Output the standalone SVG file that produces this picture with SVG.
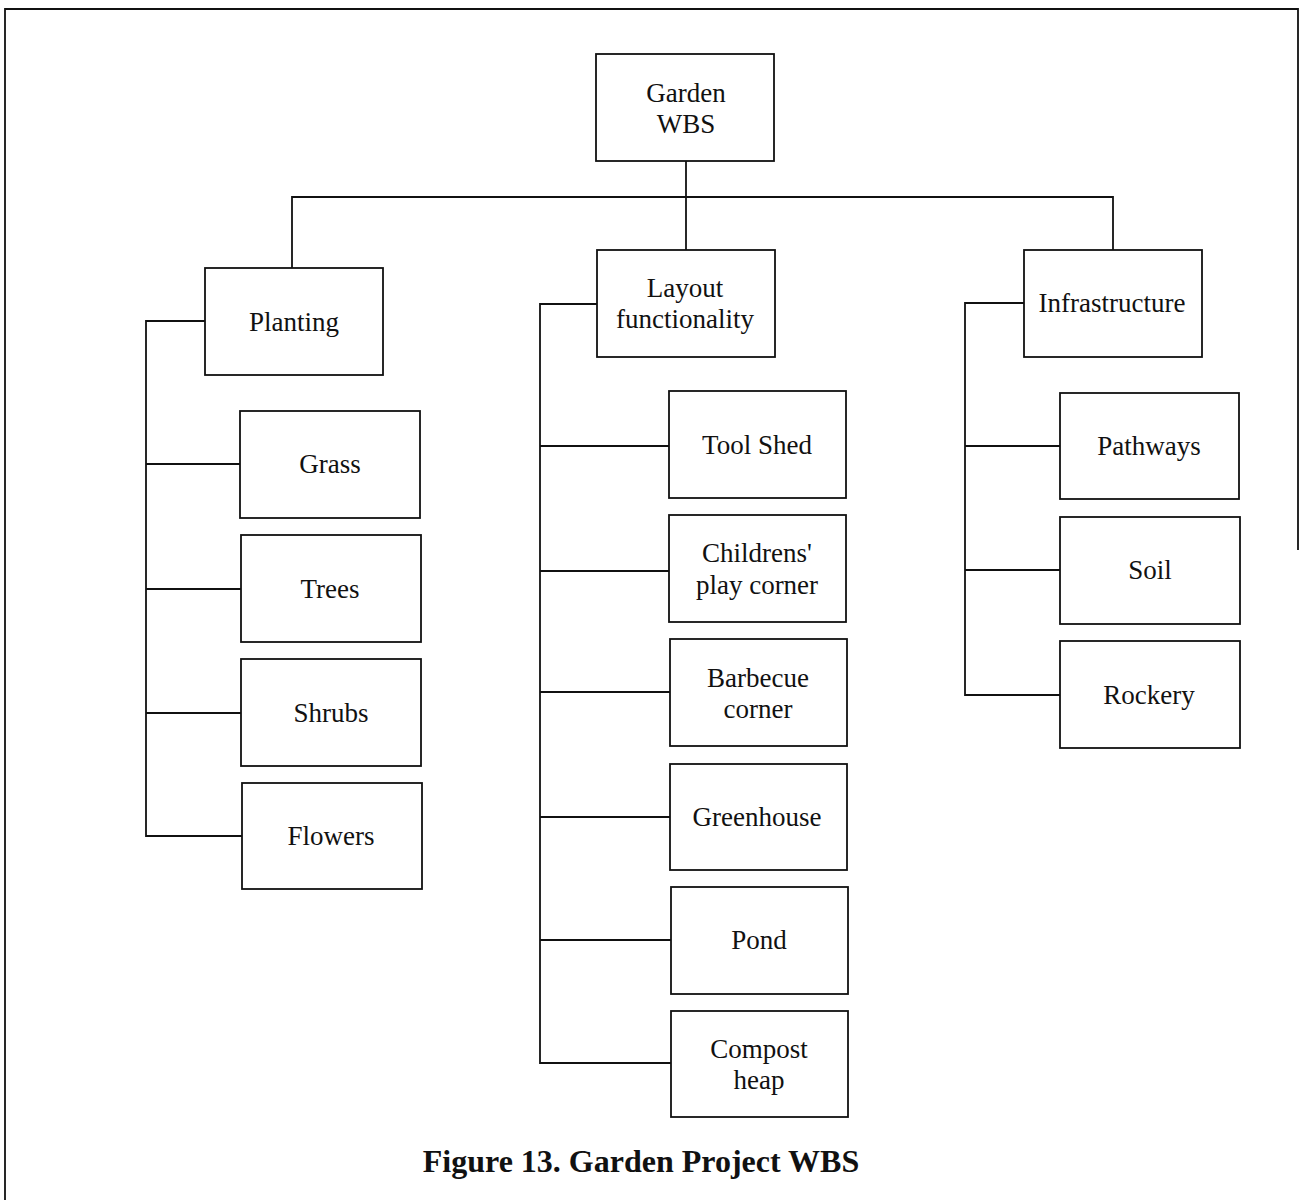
<svg xmlns="http://www.w3.org/2000/svg" width="1301" height="1200" viewBox="0 0 1301 1200">
<style>
.box{fill:#fff;stroke:#111;stroke-width:1.8}
.ln{fill:none;stroke:#111;stroke-width:1.8}
.t{font-family:"Liberation Serif","Times New Roman",serif;font-size:27px;fill:#111;text-anchor:middle}
.cap{font-family:"Liberation Serif","Times New Roman",serif;font-size:32px;font-weight:bold;fill:#111;text-anchor:middle}
</style>
<rect width="1301" height="1200" fill="#fff"/>
<g id="frame" class="ln">
<path d="M5,1200 V9 H1298 V550"/>
</g>
<g id="connectors" class="ln">
<path d="M686,161 V250"/>
<path d="M292,268 V197 H1113 V250"/>
<path d="M205,321 H146 V836 H242"/>
<path d="M146,464 H240 M146,589 H241 M146,713 H241"/>
<path d="M597,304 H540 V1063 H671"/>
<path d="M540,446 H669 M540,571 H669 M540,692 H670 M540,817 H670 M540,940 H671"/>
<path d="M1024,303 H965 V695 H1060"/>
<path d="M965,446 H1060 M965,570 H1060"/>
</g>
<g id="garden-wbs"><rect class="box" x="596" y="54" width="178" height="107"/><text class="t" x="686" y="102">Garden</text><text class="t" x="686" y="133">WBS</text></g>
<g id="planting"><rect class="box" x="205" y="268" width="178" height="107"/><text class="t" x="294" y="331">Planting</text></g>
<g id="layout"><rect class="box" x="597" y="250" width="178" height="107"/><text class="t" x="685" y="297">Layout</text><text class="t" x="685" y="328">functionality</text></g>
<g id="infrastructure"><rect class="box" x="1024" y="250" width="178" height="107"/><text class="t" x="1112" y="312">Infrastructure</text></g>
<g id="grass"><rect class="box" x="240" y="411" width="180" height="107"/><text class="t" x="330" y="473">Grass</text></g>
<g id="trees"><rect class="box" x="241" y="535" width="180" height="107"/><text class="t" x="330" y="598">Trees</text></g>
<g id="shrubs"><rect class="box" x="241" y="659" width="180" height="107"/><text class="t" x="331" y="722">Shrubs</text></g>
<g id="flowers"><rect class="box" x="242" y="783" width="180" height="106"/><text class="t" x="331" y="845">Flowers</text></g>
<g id="tool-shed"><rect class="box" x="669" y="391" width="177" height="107"/><text class="t" x="757" y="454">Tool Shed</text></g>
<g id="play-corner"><rect class="box" x="669" y="515" width="177" height="107"/><text class="t" x="757" y="562">Childrens'</text><text class="t" x="757" y="594">play corner</text></g>
<g id="barbecue"><rect class="box" x="670" y="639" width="177" height="107"/><text class="t" x="758" y="687">Barbecue</text><text class="t" x="758" y="718">corner</text></g>
<g id="greenhouse"><rect class="box" x="670" y="764" width="177" height="106"/><text class="t" x="757" y="826">Greenhouse</text></g>
<g id="pond"><rect class="box" x="671" y="887" width="177" height="107"/><text class="t" x="759" y="949">Pond</text></g>
<g id="compost"><rect class="box" x="671" y="1011" width="177" height="106"/><text class="t" x="759" y="1058">Compost</text><text class="t" x="759" y="1089">heap</text></g>
<g id="pathways"><rect class="box" x="1060" y="393" width="179" height="106"/><text class="t" x="1149" y="455">Pathways</text></g>
<g id="soil"><rect class="box" x="1060" y="517" width="180" height="107"/><text class="t" x="1150" y="579">Soil</text></g>
<g id="rockery"><rect class="box" x="1060" y="641" width="180" height="107"/><text class="t" x="1149" y="704">Rockery</text></g>
<text class="cap" x="641" y="1172">Figure 13. Garden Project WBS</text>
</svg>
